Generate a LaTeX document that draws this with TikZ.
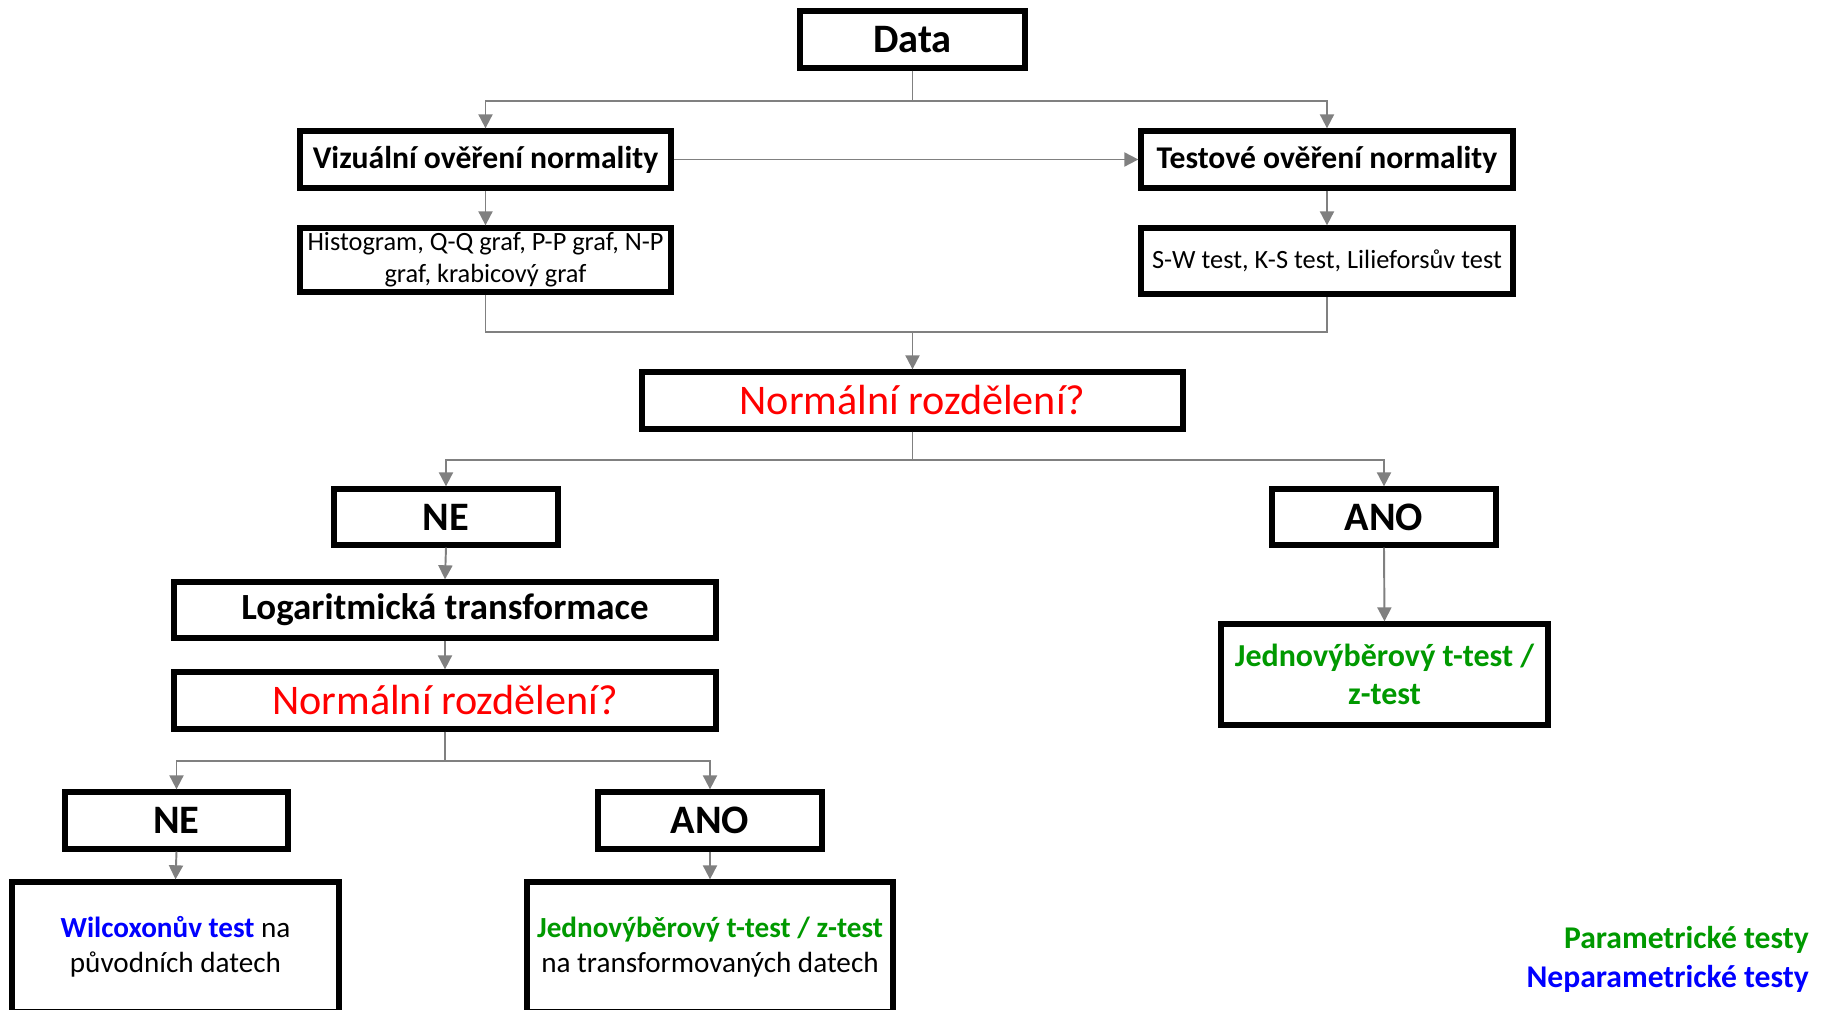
\documentclass[tikz,border=0pt]{standalone}
\usepackage{fontspec}
\setmainfont{Carlito}
\usetikzlibrary{arrows.meta}
\tikzset{>={Triangle[length=8pt,width=8pt]}}
\definecolor{flowgray}{RGB}{128,128,128}
\definecolor{testgreen}{RGB}{0,153,0}
\definecolor{testblue}{RGB}{0,0,255}
\tikzstyle{box}=[draw=black,line width=3pt,rectangle,inner sep=2pt,align=center,fill=white]
\tikzstyle{conn}=[draw=flowgray,line width=1.1pt]
\tikzstyle{bigtxt}=[font=\fontsize{23}{27}\selectfont\bfseries]
\tikzstyle{midtxt}=[font=\fontsize{18}{21.6}\selectfont\bfseries]
\tikzstyle{smalltxt}=[font=\fontsize{15}{18}\selectfont]
\tikzstyle{asktxt}=[font=\fontsize{24}{29}\selectfont,text=red]
\tikzstyle{restxt}=[font=\fontsize{16.6}{20}\selectfont]

\begin{document}
\begin{tikzpicture}
  \useasboundingbox (0,0) rectangle (36.5,20.2);

  % top part
  \node[box,bigtxt,minimum width=4.5cm,minimum height=1.14cm] (data) at (18.25,19.41) {Data};
  \node[box,midtxt,minimum width=7.42cm,minimum height=1.14cm] (viz) at (9.71,17.01) {Vizuální ověření normality};
  \node[box,midtxt,minimum width=7.44cm,minimum height=1.14cm] (tst) at (26.54,17.01) {Testové ověření normality};
  \node[box,smalltxt,minimum width=7.42cm,minimum height=1.28cm] (hist) at (9.71,15.0) {Histogram, Q-Q graf, P-P graf, N-P\\graf, krabicový graf};
  \node[box,smalltxt,minimum width=7.44cm,minimum height=1.32cm] (sw) at (26.54,14.98) {S-W test, K-S test, Lilieforsův test};
  \node[box,asktxt,minimum width=10.82cm,minimum height=1.14cm] (norm) at (18.25,12.19) {Normální rozdělení?};

  % left branch
  \node[box,bigtxt,minimum width=4.48cm,minimum height=1.12cm] (ne) at (8.92,9.86) {NE};
  \node[box,font=\fontsize{21}{25}\selectfont\bfseries,minimum width=10.84cm,minimum height=1.12cm] (logt) at (8.9,8.0) {Logaritmická transformace};
  \node[box,asktxt,minimum width=10.84cm,minimum height=1.14cm] (normb) at (8.9,6.19) {Normální rozdělení?};
  \node[box,bigtxt,minimum width=4.46cm,minimum height=1.14cm] (neb) at (3.53,3.79) {NE};
  \node[box,bigtxt,minimum width=4.48cm,minimum height=1.14cm] (anob) at (14.2,3.79) {ANO};
  \node[box,restxt,minimum width=6.54cm,minimum height=2.6cm] (wil) at (3.51,1.26) {\textbf{\textcolor{testblue}{Wilcoxonův test}} na\\původních datech};
  \node[box,restxt,minimum width=7.32cm,minimum height=2.6cm] (jtb) at (14.2,1.26) {\textbf{\textcolor{testgreen}{Jednovýběrový t-test / z-test}}\\na transformovaných datech};

  % right branch
  \node[box,bigtxt,minimum width=4.48cm,minimum height=1.12cm] (ano) at (27.68,9.86) {ANO};
  \node[box,font=\fontsize{18.2}{21.8}\selectfont\bfseries,text=testgreen,minimum width=6.54cm,minimum height=2.02cm] (jtr) at (27.69,6.71) {Jednovýběrový t-test /\\z-test};

  % legend
  \node[anchor=east,font=\fontsize{18}{21.8}\selectfont\bfseries,text=testgreen] (par) at (36.3,1.4) {Parametrické testy};
  \node[anchor=east,font=\fontsize{18}{21.8}\selectfont\bfseries,text=testblue] (npar) at (36.3,0.62) {Neparametrické testy};

  % connectors
  \draw[conn,->] (data.south) -- ++(0,-0.6) -| (viz.north);
  \draw[conn,->] (data.south) -- ++(0,-0.6) -| (tst.north);
  \draw[conn,->] (viz.east) -- (tst.west);
  \draw[conn,->] (viz.south) -- (hist.north);
  \draw[conn,->] (tst.south) -- (sw.north);
  \coordinate (j1) at (18.25,13.56);
  \draw[conn] (hist.south) |- (j1) -| (sw.south);
  \draw[conn,->] (j1) -- (norm.north);
  \draw[conn,->] (norm.south) -- ++(0,-0.56) -| (ne.north);
  \draw[conn,->] (norm.south) -- ++(0,-0.56) -| (ano.north);
  \draw[conn,->] (ne.south) -- (logt.north);
  \draw[conn,->] (logt.south) -- (normb.north);
  \draw[conn,->] (normb.south) -- ++(0,-0.58) -| (neb.north);
  \draw[conn,->] (normb.south) -- ++(0,-0.58) -| (anob.north);
  \draw[conn,->] (neb.south) -- (wil.north);
  \draw[conn,->] (anob.south) -- (jtb.north);
  \draw[conn,->] (ano.south) -- (jtr.north);
\end{tikzpicture}
\end{document}
